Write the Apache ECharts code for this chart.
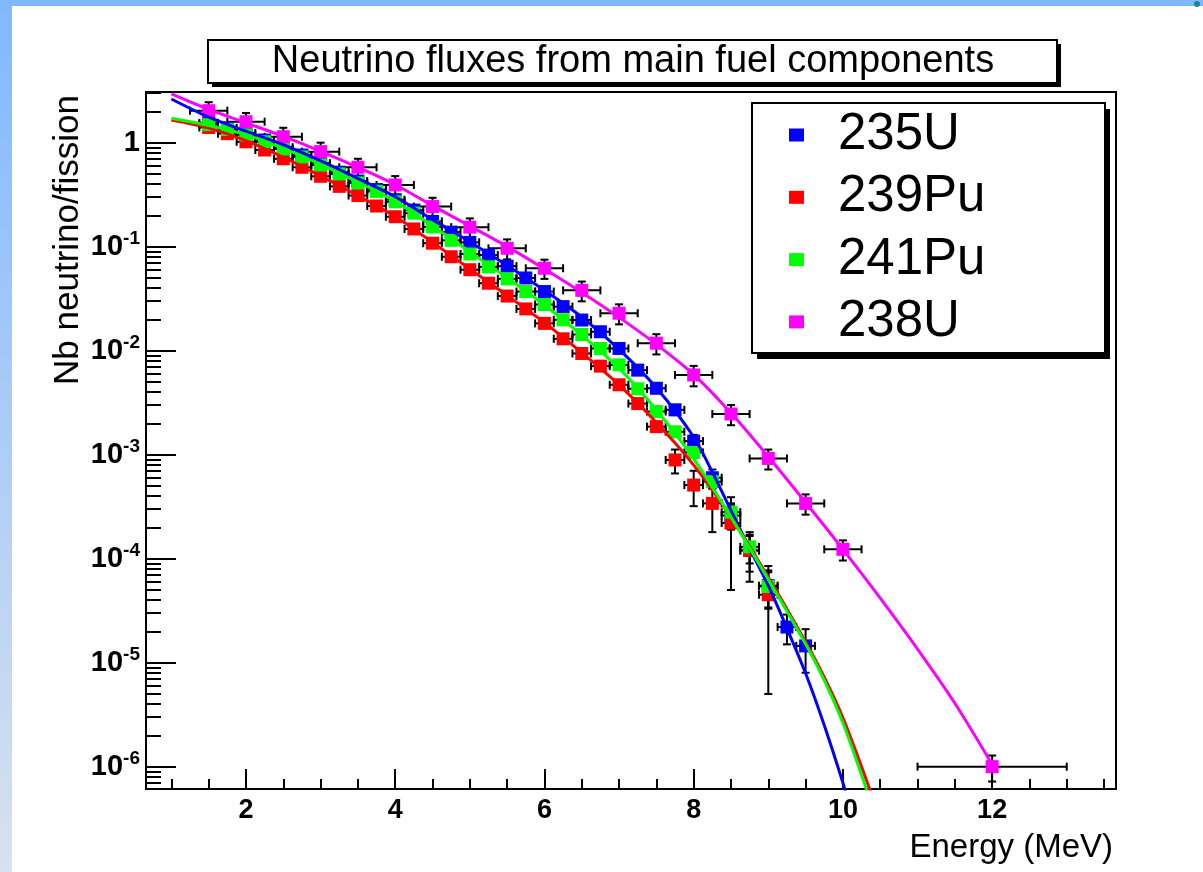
<!DOCTYPE html>
<html><head><meta charset="utf-8">
<script src="https://cdn.jsdelivr.net/npm/echarts@6/dist/echarts.min.js"></script>
<style>html,body{margin:0;padding:0;background:#fff;}#chart{width:1203px;height:872px;}</style>
</head><body><div id="chart"></div>
<script>
// ---------- data ----------
const seriesNames = ['235U', '239Pu', '241Pu', '238U'];
const seriesColors = ['#0000ff', '#ff0000', '#00ff00', '#ff00ff'];

// 235U : 0.25 MeV bins
const u235X = [1.5,1.75,2,2.25,2.5,2.75,3,3.25,3.5,3.75,4,4.25,4.5,4.75,5,5.25,5.5,5.75,6,6.25,6.5,6.75,7,7.25,7.5,7.75,8,8.25,8.5,8.75,9,9.25,9.5];
const u235Y = [1.55,1.39,1.24,1.06,0.905,0.76,0.635,0.52,0.427,0.354,0.283,0.225,0.175,0.138,0.11,0.083,0.065,0.05,0.037,0.0265,0.0197,0.0152,0.0105,0.0065,0.00435,0.0027,0.00135,0.0006,0.00026,0.00012,0.000055,0.000022,0.0000145];
const u235Err = [0.04,0.035,0.03,0.027,0.023,0.02,0.017,0.014,0.012,0.01,0.008,0.0065,0.005,0.004,0.0033,0.0025,0.002,0.0016,0.0012,0.0011,0.0009,0.0008,0.0007,0.0006,0.00045,0.0003,0.0002,0.00012,0.00007,0.000045,0.000022,0.000007,0.0000065];
const u235XErr = 0.125;

// 239Pu
const pu239X = [1.5,1.75,2,2.25,2.5,2.75,3,3.25,3.5,3.75,4,4.25,4.5,4.75,5,5.25,5.5,5.75,6,6.25,6.5,6.75,7,7.25,7.5,7.75,8,8.25,8.5,8.75,9];
const pu239Y = [1.4,1.22,1.02,0.85,0.70,0.58,0.475,0.38,0.31,0.246,0.194,0.148,0.108,0.080,0.060,0.0445,0.0335,0.0252,0.0183,0.013,0.0094,0.0071,0.0047,0.0031,0.00186,0.00089,0.00051,0.00034,0.00022,0.00012,0.000045];
const pu239Err = [0.04,0.035,0.03,0.025,0.02,0.017,0.014,0.011,0.009,0.0075,0.006,0.0045,0.0035,0.0027,0.0021,0.0016,0.0013,0.001,0.0008,0.0006,0.00045,0.0004,0.0003,0.00025,0.0002,0.00023,0.00019,0.00016,0.00017,0.00006,0.00004];
const pu239XErr = 0.125;

// 241Pu
const pu241X = [1.5,1.75,2,2.25,2.5,2.75,3,3.25,3.5,3.75,4,4.25,4.5,4.75,5,5.25,5.5,5.75,6,6.25,6.5,6.75,7,7.25,7.5,7.75,8,8.25,8.5,8.75,9];
const pu241Y = [1.49,1.34,1.19,1.02,0.87,0.73,0.61,0.50,0.41,0.34,0.27,0.21,0.155,0.115,0.085,0.064,0.049,0.037,0.0278,0.0198,0.0143,0.0105,0.0073,0.0043,0.0026,0.00166,0.00105,0.00055,0.00028,0.00013,0.000054];
const pu241Err = [0.045,0.04,0.035,0.03,0.026,0.022,0.018,0.015,0.012,0.01,0.008,0.0063,0.0047,0.0035,0.0026,0.002,0.0015,0.0011,0.0009,0.0007,0.0006,0.0005,0.0004,0.0003,0.00022,0.00016,0.00012,0.00008,0.00006,0.00004,0.00002];
const pu241XErr = 0.125;

// 238U : 0.5 MeV bins + one wide bin at 12 MeV
const u238X = [1.5,2,2.5,3,3.5,4,4.5,5,5.5,6,6.5,7,7.5,8,8.5,9,9.5,10,12];
const u238Y = [2.03,1.59,1.14,0.82,0.58,0.392,0.243,0.154,0.0965,0.062,0.038,0.0229,0.0118,0.00584,0.00246,0.00092,0.00034,0.000123,0.000001];
const u238Err = [0.42,0.34,0.25,0.18,0.12,0.085,0.052,0.033,0.021,0.013,0.0082,0.005,0.0026,0.0013,0.00054,0.0002,0.000075,0.000027,0.00000028];
const u238XErr = [0.25,0.25,0.25,0.25,0.25,0.25,0.25,0.25,0.25,0.25,0.25,0.25,0.25,0.25,0.25,0.25,0.25,0.25,1.0];

// fitted curves
const u235FitX = [1.0,1.5,2.0,2.5,3.0,3.5,4.0,4.5,5.0,5.5,6.0,6.5,7.0,7.5,8.0,8.25,8.5,8.75,9.0,9.25,9.5,9.75,10.0,10.05];
const u235FitY = [2.63,1.76,1.29,0.955,0.668,0.452,0.302,0.182,0.111,0.066,0.038,0.021,0.0103,0.0044,0.00148,0.00068,0.00029,0.000125,0.000055,0.0000214,0.0000079,0.0000025,0.0000007,0.00000052];
const pu239FitX = [1.0,1.5,2.0,2.5,3.0,3.5,4.0,4.5,5.0,5.5,6.0,6.5,7.0,7.5,8.0,8.5,9.0,9.5,9.75,10.0,10.25,10.4];
const pu239FitY = [1.648,1.38,1.047,0.724,0.479,0.309,0.195,0.110,0.061,0.0339,0.0186,0.00955,0.00468,0.00204,0.000794,0.000251,0.0000661,0.0000158,0.00000724,0.00000295,0.000001,0.0000005];
const pu241FitX = [1.0,1.5,2.0,2.5,3.0,3.5,4.0,4.5,5.0,5.5,6.0,6.5,7.0,7.5,8.0,8.5,9.0,9.5,9.75,10.0,10.25,10.35];
const pu241FitY = [1.718,1.462,1.189,0.881,0.617,0.417,0.272,0.158,0.0891,0.0501,0.0275,0.0141,0.00676,0.00269,0.000912,0.000251,0.0000631,0.0000151,0.00000676,0.00000263,0.00000083,0.0000005];
const u238FitX = [1.0,1.5,2.0,2.5,3.0,3.5,4.0,4.5,5.0,5.5,6.0,6.5,7.0,7.5,8.0,8.5,9.0,9.5,10.0,10.5,11.0,11.5,12.0];
const u238FitY = [2.951,2.089,1.549,1.148,0.826,0.579,0.394,0.248,0.158,0.1,0.061,0.0363,0.0209,0.0115,0.00589,0.00251,0.000955,0.000347,0.000123,0.0000417,0.0000135,0.00000407,0.00000105];

// axes
const xMin = 0.66, xMax = 13.66;
const yMin = 6.1e-7, yMax = 3.07;
const xMajorTicks = [2,4,6,8,10,12];
const xMinorTicks = [1,1.5,2.5,3,3.5,4.5,5,5.5,6.5,7,7.5,8.5,9,9.5,10.5,11,11.5,12.5,13,13.5];
const yMajorTicks = [1e-6,1e-5,1e-4,1e-3,1e-2,1e-1,1];
const yMinorTicks = [7e-7,8e-7,9e-7,
  2e-6,3e-6,4e-6,5e-6,6e-6,7e-6,8e-6,9e-6,
  2e-5,3e-5,4e-5,5e-5,6e-5,7e-5,8e-5,9e-5,
  2e-4,3e-4,4e-4,5e-4,6e-4,7e-4,8e-4,9e-4,
  2e-3,3e-3,4e-3,5e-3,6e-3,7e-3,8e-3,9e-3,
  2e-2,3e-2,4e-2,5e-2,6e-2,7e-2,8e-2,9e-2,
  0.2,0.3,0.4,0.5,0.6,0.7,0.8,0.9,2,3];

const titleText = 'Neutrino fluxes from main fuel components';
const xTitle = 'Energy (MeV)';
const yTitle = 'Nb neutrino/fission';
// ---------- end data ----------

const FONT = '"Liberation Sans", Arial, Helvetica, sans-serif';

function zip(xs, ys) { return xs.map((x, i) => [x, ys[i]]); }
function errRows(xs, ys, es, xe) {
  return xs.map((x, i) => [x, ys[i], Array.isArray(xe) ? xe[i] : xe, es[i]]);
}
function errRender(params, api) {
  const x = api.value(0), y = api.value(1), ex = api.value(2), ey = api.value(3);
  const l = api.coord([x - ex, y]), r = api.coord([x + ex, y]);
  const t = api.coord([x, y + ey]), b = api.coord([x, y - ey]);
  const c = 4;
  const st = { stroke: '#000', lineWidth: 2 };
  return { type: 'group', children: [
    { type: 'line', shape: { x1: l[0], y1: l[1], x2: r[0], y2: r[1] }, style: st },
    { type: 'line', shape: { x1: l[0], y1: l[1] - c, x2: l[0], y2: l[1] + c }, style: st },
    { type: 'line', shape: { x1: r[0], y1: r[1] - c, x2: r[0], y2: r[1] + c }, style: st },
    { type: 'line', shape: { x1: t[0], y1: t[1], x2: b[0], y2: b[1] }, style: st },
    { type: 'line', shape: { x1: t[0] - c, y1: t[1], x2: t[0] + c, y2: t[1] }, style: st },
    { type: 'line', shape: { x1: b[0] - c, y1: b[1], x2: b[0] + c, y2: b[1] }, style: st }
  ]};
}

const groups = [
  { x: u235X, y: u235Y, e: u235Err, xe: u235XErr, fx: u235FitX, fy: u235FitY },
  { x: pu239X, y: pu239Y, e: pu239Err, xe: pu239XErr, fx: pu239FitX, fy: pu239FitY },
  { x: pu241X, y: pu241Y, e: pu241Err, xe: pu241XErr, fx: pu241FitX, fy: pu241FitY },
  { x: u238X, y: u238Y, e: u238Err, xe: u238XErr, fx: u238FitX, fy: u238FitY }
];

const series = [];
groups.forEach((g, i) => {
  series.push({
    name: seriesNames[i] + ' errors', type: 'custom', xAxisIndex: 0, yAxisIndex: 0,
    renderItem: errRender, data: errRows(g.x, g.y, g.e, g.xe),
    encode: { x: 0, y: 1 }, silent: true
  });
  series.push({
    name: seriesNames[i], type: 'scatter', xAxisIndex: 0, yAxisIndex: 0,
    data: zip(g.x, g.y), symbol: 'rect', symbolSize: 13,
    itemStyle: { color: seriesColors[i], opacity: 1 }, silent: true
  });
  series.push({
    name: seriesNames[i] + ' fit', type: 'line', xAxisIndex: 0, yAxisIndex: 0,
    data: zip(g.fx, g.fy), smooth: 0.3, showSymbol: false, clip: true,
    lineStyle: { color: seriesColors[i], width: 3 }, silent: true
  });
});

const tickStyle = { color: '#000', width: 2 };

const option = {
  animation: false,
  backgroundColor: '#ffffff',
  grid: { left: 146, top: 92, width: 970, height: 697, show: true, borderColor: '#000', borderWidth: 2, backgroundColor: '#fff' },
  xAxis: [
    { type: 'value', min: xMin, max: xMax, position: 'bottom',
      axisLine: { show: true, onZero: false, lineStyle: tickStyle },
      axisTick: { show: true, inside: true, length: 20, customValues: xMajorTicks, lineStyle: tickStyle },
      axisLabel: { customValues: xMajorTicks, margin: 8, fontSize: 27, fontWeight: 'bold', fontFamily: FONT, color: '#000' },
      splitLine: { show: false } },
    { type: 'value', min: xMin, max: xMax, position: 'bottom',
      axisLine: { show: false, onZero: false },
      axisTick: { show: true, inside: true, length: 10, customValues: xMinorTicks, lineStyle: tickStyle },
      axisLabel: { show: false }, splitLine: { show: false } }
  ],
  yAxis: [
    { type: 'log', logBase: 10, min: yMin, max: yMax, position: 'left',
      axisLine: { show: true, lineStyle: tickStyle },
      axisTick: { show: true, inside: true, length: 30, customValues: yMajorTicks, lineStyle: tickStyle },
      axisLabel: { customValues: yMajorTicks, margin: 6,
        formatter: function (v) {
          const e = v > 0 ? Math.round(Math.log10(v)) : v;
          return e === 0 ? '{b|1}' : '{b|10}{s|' + e + '}';
        },
        rich: {
          b: { fontSize: 29, fontWeight: 'bold', fontFamily: FONT, color: '#000', lineHeight: 34 },
          s: { fontSize: 19, fontWeight: 'bold', fontFamily: FONT, color: '#000', lineHeight: 17, verticalAlign: 'top' }
        } },
      splitLine: { show: false } },
    { type: 'log', logBase: 10, min: yMin, max: yMax, position: 'left',
      axisLine: { show: false },
      axisTick: { show: true, inside: true, length: 15, customValues: yMinorTicks, lineStyle: tickStyle },
      axisLabel: { show: false }, splitLine: { show: false } }
  ],
  legend: {
    data: seriesNames, orient: 'vertical', left: 789, top: 98, padding: 0,
    itemWidth: 15, itemHeight: 13, itemGap: -11.7, icon: 'rect', selectedMode: false, z: 6,
    itemStyle: { opacity: 1 },
    textStyle: { fontSize: 51, fontFamily: FONT, color: '#000', lineHeight: 50, padding: [0, 0, 24, 29] }
  },
  graphic: [
    { type: 'rect', z: -10, shape: { x: 0, y: 0, width: 1203, height: 6 }, style: { fill: '#80b8ff' } },
    { type: 'rect', z: -10, shape: { x: 0, y: 0, width: 12, height: 872 },
      style: { fill: new echarts.graphic.LinearGradient(0, 0, 0, 1, [{ offset: 0, color: '#80b8ff' }, { offset: 1, color: '#d8e1ee' }]) } },
    { type: 'circle', z: -9, shape: { cx: 1197, cy: 4, r: 3 }, style: { fill: '#178a8a' } },
    // title box with shadow
    { type: 'rect', z: 4, shape: { x: 212, y: 44, width: 849, height: 43 }, style: { fill: '#000' } },
    { type: 'rect', z: 5, shape: { x: 208, y: 40, width: 849, height: 43 },
      style: { fill: '#fff', stroke: '#000', lineWidth: 2 } },
    { type: 'text', z: 6, x: 633, y: 62,
      style: { text: titleText, fontSize: 38, fontFamily: FONT, fill: '#000', align: 'center', verticalAlign: 'middle' } },
    // legend box with shadow
    { type: 'rect', z: 4, shape: { x: 757, y: 109, width: 353, height: 250 }, style: { fill: '#000' } },
    { type: 'rect', z: 5, shape: { x: 752, y: 103, width: 353, height: 250 },
      style: { fill: '#fff', stroke: '#000', lineWidth: 2 } },
    { type: 'text', z: 6, x: 1113, y: 848,
      style: { text: xTitle, fontSize: 33, fontFamily: FONT, fill: '#000', align: 'right', verticalAlign: 'middle' } },
    { type: 'text', z: 6, x: 68, y: 240, rotation: Math.PI / 2,
      style: { text: yTitle, fontSize: 35, fontFamily: FONT, fill: '#000', align: 'center', verticalAlign: 'middle' } }
  ],
  series: series
};

const chart = echarts.init(document.getElementById('chart'), null, { renderer: 'canvas' });
chart.setOption(option);
</script></body></html>
